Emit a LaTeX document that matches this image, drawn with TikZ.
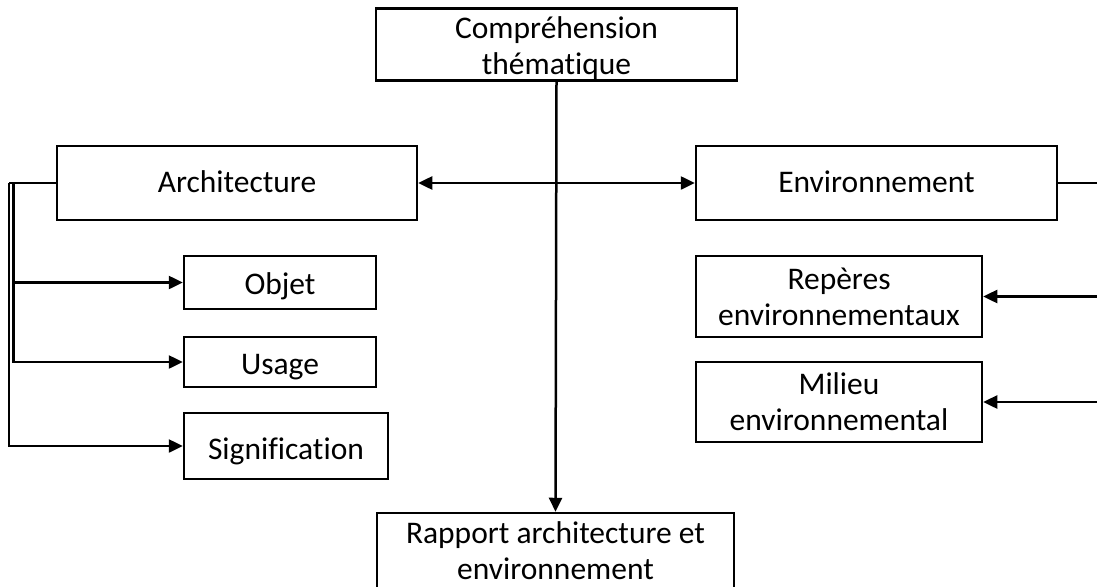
\documentclass[tikz,border=0pt]{standalone}
\usepackage{fontspec}
\setmainfont{Carlito}[RawFeature={-liga}]
\usetikzlibrary{arrows.meta}
\newcommand\droptext[2]{\raisebox{-#1}[\height][\depth]{\begin{tabular}{@{}c@{}}#2\end{tabular}}}
\begin{document}
\begin{tikzpicture}[x=1pt,y=-1pt,
  box/.style={draw=black,line width=2.5pt,fill=white,align=center,inner sep=0pt,
    font=\fontsize{31.5}{36}\selectfont},
  link/.style={line width=2.5pt},
  arr/.style={line width=2.5pt,-{Triangle[length=14pt,width=13pt]}},
  darr/.style={line width=2.5pt,{Triangle[length=14pt,width=13pt]}-{Triangle[length=14pt,width=13pt]}}]
\useasboundingbox (0,0) rectangle (1097,586);
\node[box,minimum width=361pt,minimum height=71pt] (top) at (556.5,44.5) {\droptext{5pt}{Compréhension\\thématique}};
\node[box,minimum width=360pt,minimum height=74pt] (arch) at (237,183) {\droptext{2pt}{Architecture}};
\node[box,minimum width=361pt,minimum height=74pt] (env) at (876.5,183) {\droptext{2pt}{Environnement}};
\node[box,minimum width=192pt,minimum height=53pt] (obj) at (280,282.5) {\droptext{5pt}{Objet}};
\node[box,minimum width=192pt,minimum height=50pt] (usage) at (280,362) {\droptext{5pt}{Usage}};
\node[box,minimum width=204pt,minimum height=66pt] (sig) at (286,446) {\droptext{6pt}{Signification}};
\node[box,minimum width=286pt,minimum height=81pt] (rep) at (839,296.5) {Repères\\environnementaux};
\node[box,minimum width=286pt,minimum height=80pt] (mil) at (839,402) {Milieu\\environnemental};
\node[box,minimum width=357pt,minimum height=75pt] (rap) at (555.5,550.5) {Rapport architecture et\\environnement};
\coordinate (outer) at (9,183);
\coordinate (inner) at (13.5,183);
\coordinate (envend) at (1099,183);
\coordinate (repend) at (1099,296.5);
\coordinate (milend) at (1099,402);
% central axis
\draw[arr] (top.south) -- (rap.north);
\draw[darr] (arch.east) -- (env.west);
% left bracket
\draw[link] (arch.west) -- (outer);
\draw[arr] (outer) |- (sig.west);
\draw[arr] (inner) |- (obj.west);
\draw[arr] (inner) |- (usage.west);
% right side
\draw[link] (env.east) -- (envend);
\draw[arr] (repend) -- (rep.east);
\draw[arr] (milend) -- (mil.east);
\end{tikzpicture}
\end{document}
